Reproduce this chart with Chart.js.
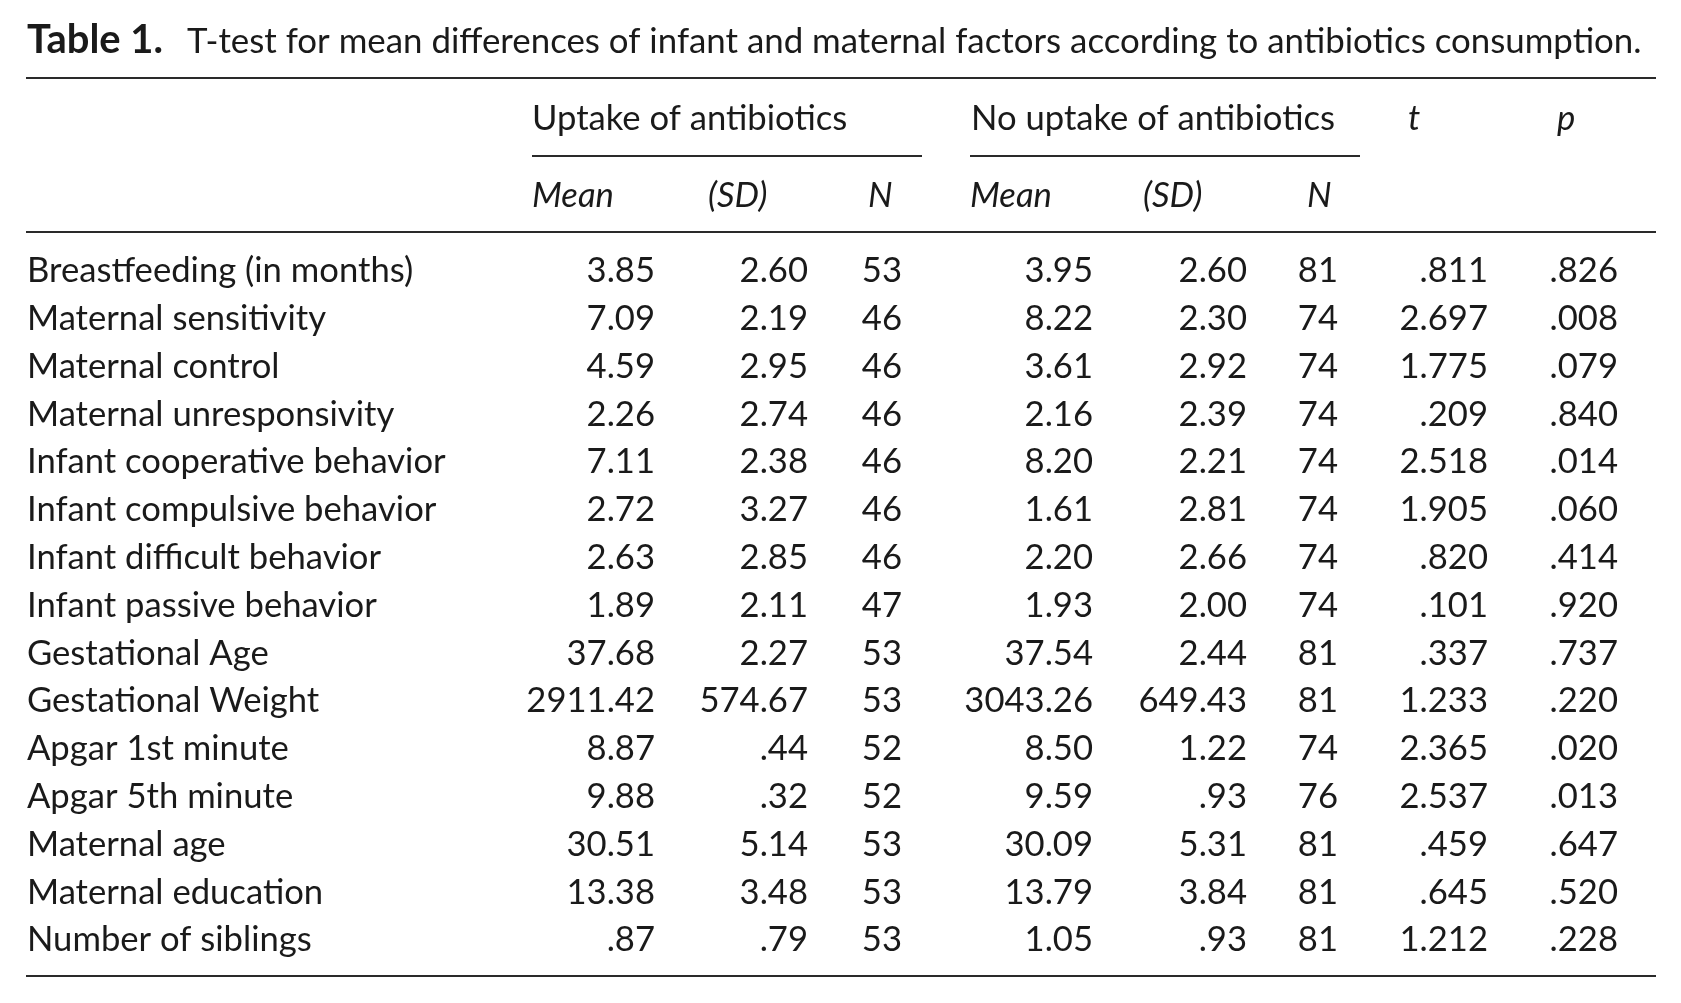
<!DOCTYPE html>
<html>
<head>
<meta charset="utf-8">
<script src="https://cdn.jsdelivr.net/npm/chart.js@4.4.1/dist/chart.umd.min.js"></script>
<style>
  html, body { margin: 0; padding: 0; background: #ffffff; }
  #wrap { width: 1681px; height: 1003px; position: relative; }
</style>
</head>
<body>
<div id="wrap"><canvas id="c"></canvas></div>
<script>
// ---------- data ----------
const TITLE_BOLD = "Table 1.";
const TITLE_TEXT = "T-test for mean differences of infant and maternal factors according to antibiotics consumption.";
const GROUPS = ["Uptake of antibiotics", "No uptake of antibiotics"];
const SUB_HEADERS = ["Mean", "(SD)", "N", "Mean", "(SD)", "N", "t", "p"];

const ROWS = [
  "Breastfeeding (in months)",
  "Maternal sensitivity",
  "Maternal control",
  "Maternal unresponsivity",
  "Infant cooperative behavior",
  "Infant compulsive behavior",
  "Infant difficult behavior",
  "Infant passive behavior",
  "Gestational Age",
  "Gestational Weight",
  "Apgar 1st minute",
  "Apgar 5th minute",
  "Maternal age",
  "Maternal education",
  "Number of siblings"
];

const UP_MEAN = [3.85, 7.09, 4.59, 2.26, 7.11, 2.72, 2.63, 1.89, 37.68, 2911.42, 8.87, 9.88, 30.51, 13.38, 0.87];
const UP_SD   = [2.60, 2.19, 2.95, 2.74, 2.38, 3.27, 2.85, 2.11, 2.27, 574.67, 0.44, 0.32, 5.14, 3.48, 0.79];
const UP_N    = [53, 46, 46, 46, 46, 46, 46, 47, 53, 53, 52, 52, 53, 53, 53];
const NO_MEAN = [3.95, 8.22, 3.61, 2.16, 8.20, 1.61, 2.20, 1.93, 37.54, 3043.26, 8.50, 9.59, 30.09, 13.79, 1.05];
const NO_SD   = [2.60, 2.30, 2.92, 2.39, 2.21, 2.81, 2.66, 2.00, 2.44, 649.43, 1.22, 0.93, 5.31, 3.84, 0.93];
const NO_N    = [81, 74, 74, 74, 74, 74, 74, 74, 81, 81, 74, 76, 81, 81, 81];
const T_VAL   = [0.811, 2.697, 1.775, 0.209, 2.518, 1.905, 0.820, 0.101, 0.337, 1.233, 2.365, 2.537, 0.459, 0.645, 1.212];
const P_VAL   = [0.826, 0.008, 0.079, 0.840, 0.014, 0.060, 0.414, 0.920, 0.737, 0.220, 0.020, 0.013, 0.647, 0.520, 0.228];

const COLUMNS = [
  { values: UP_MEAN, decimals: 2 },
  { values: UP_SD,   decimals: 2 },
  { values: UP_N,    decimals: 0 },
  { values: NO_MEAN, decimals: 2 },
  { values: NO_SD,   decimals: 2 },
  { values: NO_N,    decimals: 0 },
  { values: T_VAL,   decimals: 3 },
  { values: P_VAL,   decimals: 3 }
];

// ---------- layout (pixels on the x scale, 0..1681) ----------
const W = 1681, H = 1003;
const COL_RIGHT = [655, 808, 902, 1093, 1247, 1338, 1488, 1618];
const HEAD_LEFT = [532, 708, 868, 970, 1143, 1307, 1408, 1557];
const GROUP_LEFT = [532, 971];
const GROUP_RULES = [[532, 922], [970, 1360]];
const LABEL_X = 27;
const RULE_X = [26, 1656];
const Y_TITLE = 53, Y_TOPRULE = 78, Y_GROUP = 130, Y_GROUPRULE = 156, Y_SUB = 207, Y_MIDRULE = 232, Y_BOTRULE = 976;
const TEXT_COLOR = "#1a1a1a", RULE_COLOR = "#2a2a2a";
const FAMILY = "Lato, 'Open Sans', sans-serif";

function fitSize(text, target, weight, style) {
  const ctx = document.createElement("canvas").getContext("2d");
  ctx.font = (style || "") + " " + (weight || "400") + " 100px " + FAMILY;
  return 100 * target / ctx.measureText(text).width;
}
const BODY_SIZE = (fitSize(ROWS[0], 388) + fitSize(ROWS[4], 417)) / 2;
const TITLE_SIZE = fitSize(TITLE_TEXT, 1455);
const TITLE_BOLD_SIZE = fitSize(TITLE_BOLD, 136, "700");

function fmt(v, d) {
  let s = v.toFixed(d);
  if (d > 0) s = s.replace(/^0\./, ".");
  return s;
}

const datasets = COLUMNS.map((col, j) => ({
  label: SUB_HEADERS[j],
  data: ROWS.map((r, i) => ({ x: COL_RIGHT[j], y: r, txt: fmt(col.values[i], col.decimals) })),
  pointRadius: 0,
  pointHoverRadius: 0,
  showLine: false
}));

const tablePlugin = {
  id: "tableText",
  beforeDraw(chart) {
    const ctx = chart.ctx;
    ctx.save();
    ctx.fillStyle = "#ffffff";
    ctx.fillRect(0, 0, chart.width, chart.height);
    ctx.restore();
  },
  afterDatasetsDraw(chart) {
    const ctx = chart.ctx;
    const xs = chart.scales.x, ys = chart.scales.y;
    const base = 0.37 * BODY_SIZE;
    ctx.save();
    ctx.fillStyle = TEXT_COLOR;
    ctx.textBaseline = "alphabetic";

    // title
    ctx.textAlign = "left";
    ctx.font = "700 " + TITLE_BOLD_SIZE + "px " + FAMILY;
    ctx.fillText(TITLE_BOLD, xs.getPixelForValue(27), Y_TITLE);
    ctx.font = "400 " + TITLE_SIZE + "px " + FAMILY;
    ctx.fillText(TITLE_TEXT, xs.getPixelForValue(187), Y_TITLE);

    // group headers
    ctx.font = "400 " + BODY_SIZE + "px " + FAMILY;
    GROUPS.forEach((g, k) => ctx.fillText(g, xs.getPixelForValue(GROUP_LEFT[k]), Y_GROUP));

    // sub headers (italic); t and p sit on the group header line
    ctx.font = "italic 400 " + BODY_SIZE + "px " + FAMILY;
    SUB_HEADERS.forEach((h, j) => {
      const y = j >= 6 ? Y_GROUP : Y_SUB;
      ctx.fillText(h, xs.getPixelForValue(HEAD_LEFT[j]), y);
    });

    // row labels
    ctx.font = "400 " + BODY_SIZE + "px " + FAMILY;
    ROWS.forEach((r, i) => {
      ctx.fillText(r, xs.getPixelForValue(LABEL_X), ys.getPixelForValue(i) + base);
    });

    // values at the dataset points
    ctx.textAlign = "right";
    chart.data.datasets.forEach((ds, j) => {
      const meta = chart.getDatasetMeta(j);
      meta.data.forEach((el, i) => {
        ctx.fillText(ds.data[i].txt, el.x, el.y + base);
      });
    });

    // rules
    ctx.strokeStyle = RULE_COLOR;
    ctx.lineWidth = 2;
    const hline = (x1, x2, y) => {
      ctx.beginPath();
      ctx.moveTo(xs.getPixelForValue(x1), y);
      ctx.lineTo(xs.getPixelForValue(x2), y);
      ctx.stroke();
    };
    hline(RULE_X[0], RULE_X[1], Y_TOPRULE);
    hline(RULE_X[0], RULE_X[1], Y_MIDRULE);
    hline(RULE_X[0], RULE_X[1], Y_BOTRULE);
    GROUP_RULES.forEach(r => hline(r[0], r[1], Y_GROUPRULE));
    ctx.restore();
  }
};

new Chart(document.getElementById("c"), {
  type: "scatter",
  data: { datasets },
  options: {
    responsive: true,
    maintainAspectRatio: false,
    animation: false,
    events: [],
    layout: { padding: { left: 0, right: 0, top: 245.6, bottom: H - 962.4 } },
    plugins: { legend: { display: false }, tooltip: { enabled: false } },
    scales: {
      x: { type: "linear", min: 0, max: W, display: false },
      y: { type: "category", labels: ROWS, offset: true, display: false }
    }
  },
  plugins: [tablePlugin]
});
</script>
</body>
</html>
